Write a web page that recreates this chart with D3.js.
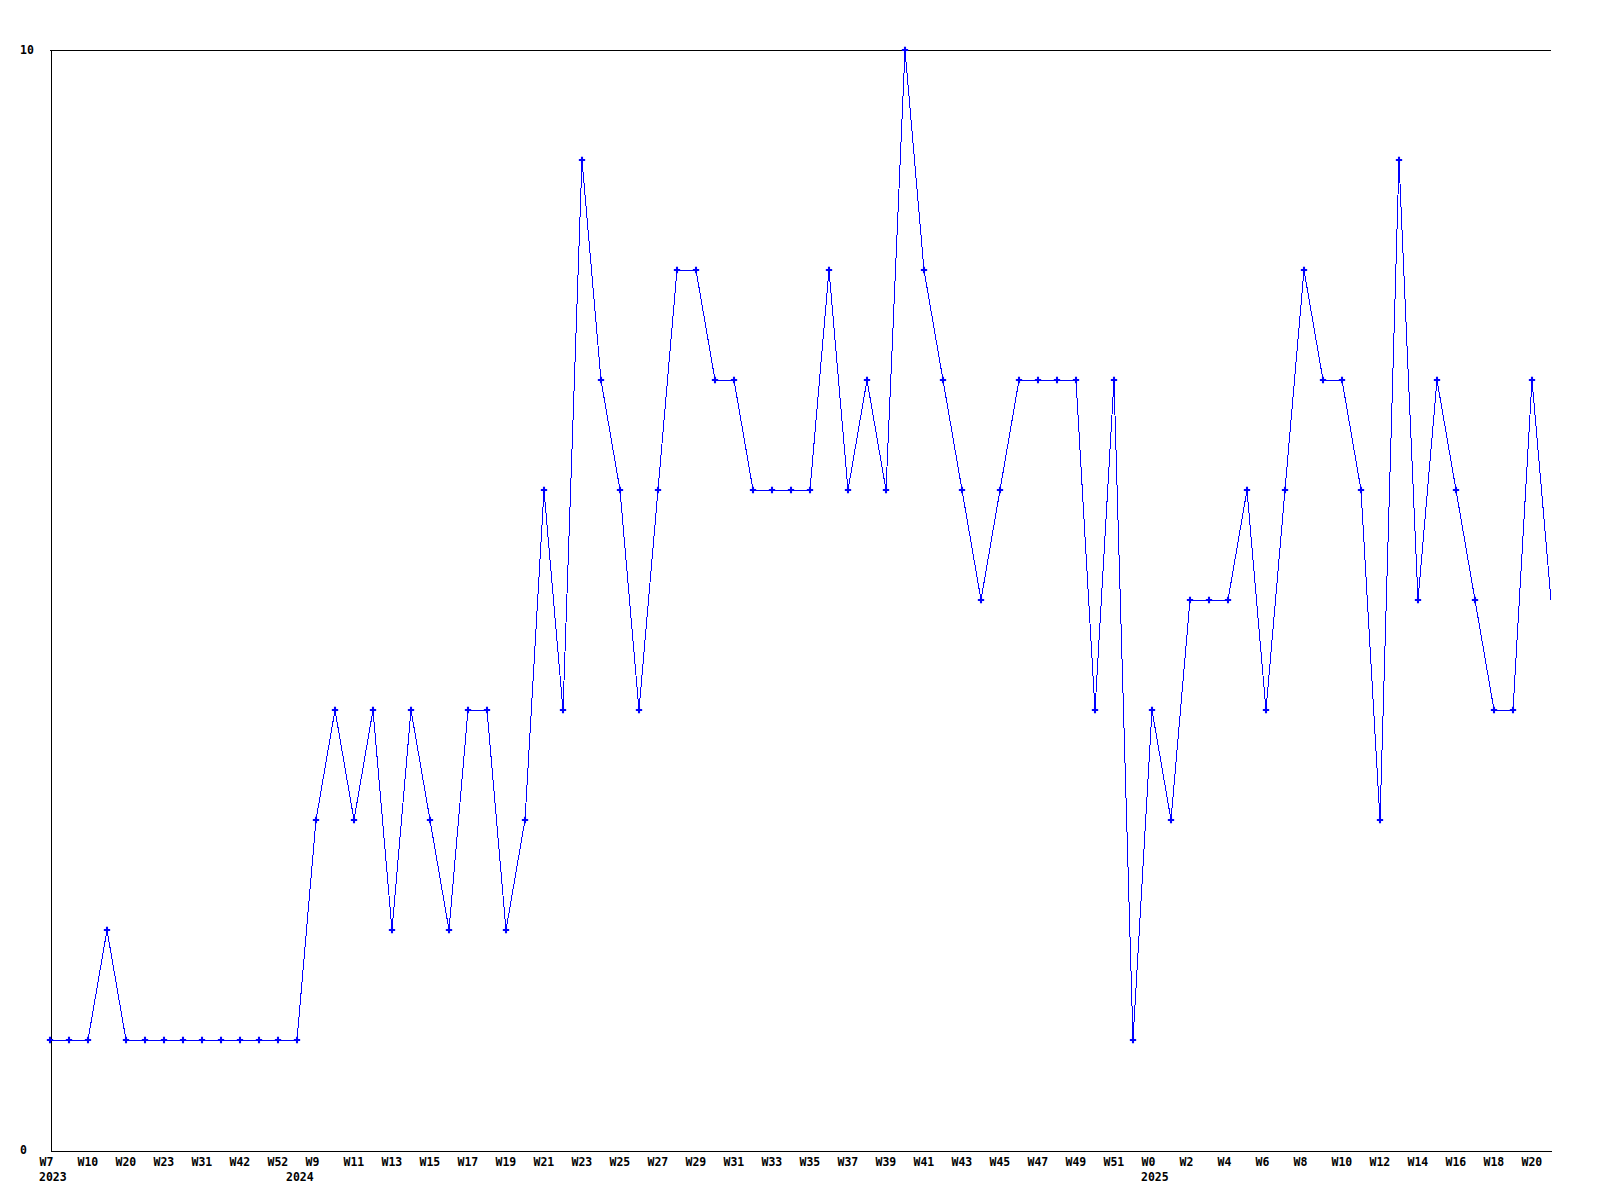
<!DOCTYPE html>
<html>
<head>
<meta charset="utf-8">
<script src="https://cdn.jsdelivr.net/npm/d3@7"></script>
<style>
  html, body { margin: 0; padding: 0; background: #fff; }
  svg { display: block; }
  text { font-family: "DejaVu Sans Mono", "Liberation Mono", monospace; font-size: 11.5px; font-weight: bold; fill: #000; }
</style>
</head>
<body>
<svg id="chart" width="1600" height="1200"></svg>
<script>
// ---- data ----
const years = [
  "2023","2023","2023","2023","2023","2023","2023","2023","2023","2023","2023","2023","2023",
  "2024","2024","2024","2024","2024","2024","2024","2024","2024","2024","2024","2024","2024","2024","2024",
  "2024","2024","2024","2024","2024","2024","2024","2024","2024","2024","2024","2024","2024","2024","2024",
  "2024","2024","2024","2024","2024","2024","2024","2024","2024","2024","2024","2024","2024","2024","2024",
  "2025","2025","2025","2025","2025","2025","2025","2025","2025","2025","2025","2025","2025","2025","2025",
  "2025","2025","2025","2025","2025","2025","2025"
];
const weeks = [
  "W7","W8","W10","W15","W20","W22","W23","W27","W31","W36","W42","W47","W52",
  "W8","W9","W10","W11","W12","W13","W14","W15","W16","W17","W18","W19","W20","W21","W22",
  "W23","W24","W25","W26","W27","W28","W29","W30","W31","W32","W33","W34","W35","W36","W37",
  "W38","W39","W40","W41","W42","W43","W44","W45","W46","W47","W48","W49","W50","W51","W52",
  "W0","W1","W2","W3","W4","W5","W6","W7","W8","W9","W10","W11","W12","W13","W14",
  "W15","W16","W17","W18","W19","W20","W21"
];
const values = [
  1,1,1,2,1,1,1,1,1,1,1,1,1,1,
  3,4,3,4,2,4,3,2,4,4,2,3,
  6,4,9,7,6,4,6,8,8,7,7,6,6,6,
  6,8,6,7,6,10,8,7,6,5,6,7,7,7,
  7,4,7,1,4,3,5,5,5,6,4,6,8,7,
  7,6,3,9,5,7,6,5,4,4,7,5
];
const yTicks = [0, 10];

// ---- chart ----
const categories = weeks.map((w, i) => years[i] + "-" + w);
const data = categories.map((c, i) => ({ c, v: values[i], i }));

const svg = d3.select("#chart");
const mLeft = 50, mRight = 1551, mTop = 50, mBottom = 1150;

const x = d3.scalePoint().domain(categories).range([mLeft, mRight]).padding(0);
const y = d3.scaleLinear().domain([0, 10]).range([mBottom, mTop]);

// top border line
svg.append("line")
  .attr("x1", mLeft).attr("x2", mRight)
  .attr("y1", mTop + 0.5).attr("y2", mTop + 0.5)
  .attr("stroke", "#000").attr("stroke-width", 1)
  .attr("shape-rendering", "crispEdges");

// x axis
const tickCats = categories.filter((c, i) => i % 2 === 0);
const gx = svg.append("g")
  .attr("transform", `translate(0,${mBottom + 0.5})`)
  .call(d3.axisBottom(x).tickValues(tickCats).tickSize(0).tickSizeOuter(0)
    .tickFormat(c => weeks[categories.indexOf(c)]));
gx.select(".domain").attr("stroke", "#000").attr("shape-rendering", "crispEdges");
gx.selectAll(".tick line").remove();
gx.selectAll(".tick text")
  .attr("text-anchor", "start")
  .attr("x", -11)
  .attr("y", 0)
  .attr("dy", 0)
  .attr("transform", "translate(0,15.5)")
  .style("font-family", '"DejaVu Sans Mono", monospace')
  .style("font-size", "11.5px")
  .style("font-weight", "bold");

// year labels at first point of each year
const yearStarts = years.map((yr, i) => ({ yr, i })).filter(d => d.i === 0 || years[d.i - 1] !== d.yr);
svg.append("g").selectAll("text")
  .data(yearStarts)
  .join("text")
  .attr("x", d => x(categories[d.i]) - 11)
  .attr("y", mBottom + 31)
  .attr("text-anchor", "start")
  .text(d => d.yr);

// y axis
const gy = svg.append("g")
  .attr("transform", `translate(${mLeft + 0.5},0)`)
  .call(d3.axisLeft(y).tickValues(yTicks).tickSize(0).tickSizeOuter(0).tickFormat(d3.format("d")));
gy.select(".domain").attr("stroke", "#000").attr("shape-rendering", "crispEdges");
gy.selectAll(".tick line").remove();
gy.selectAll(".tick text")
  .attr("text-anchor", "start")
  .attr("x", -30.5)
  .attr("dy", "0.32em")
  .style("font-family", '"DejaVu Sans Mono", monospace')
  .style("font-size", "11.5px")
  .style("font-weight", "bold");

// line
const line = d3.line().x(d => x(d.c)).y(d => y(d.v));
svg.append("path")
  .datum(data)
  .attr("d", line)
  .attr("fill", "none")
  .attr("stroke", "#0000ff")
  .attr("stroke-width", 1)
  .attr("shape-rendering", "crispEdges");

// markers (all but the final point, which sits on the right edge)
const sym = d3.symbol().type(d3.symbolCross).size(22);
svg.append("g").selectAll("path")
  .data(data.filter(d => d.i < data.length - 1))
  .join("path")
  .attr("d", sym)
  .attr("transform", d => `translate(${x(d.c)},${y(d.v)})`)
  .attr("fill", "#0000ff");
</script>
</body>
</html>
